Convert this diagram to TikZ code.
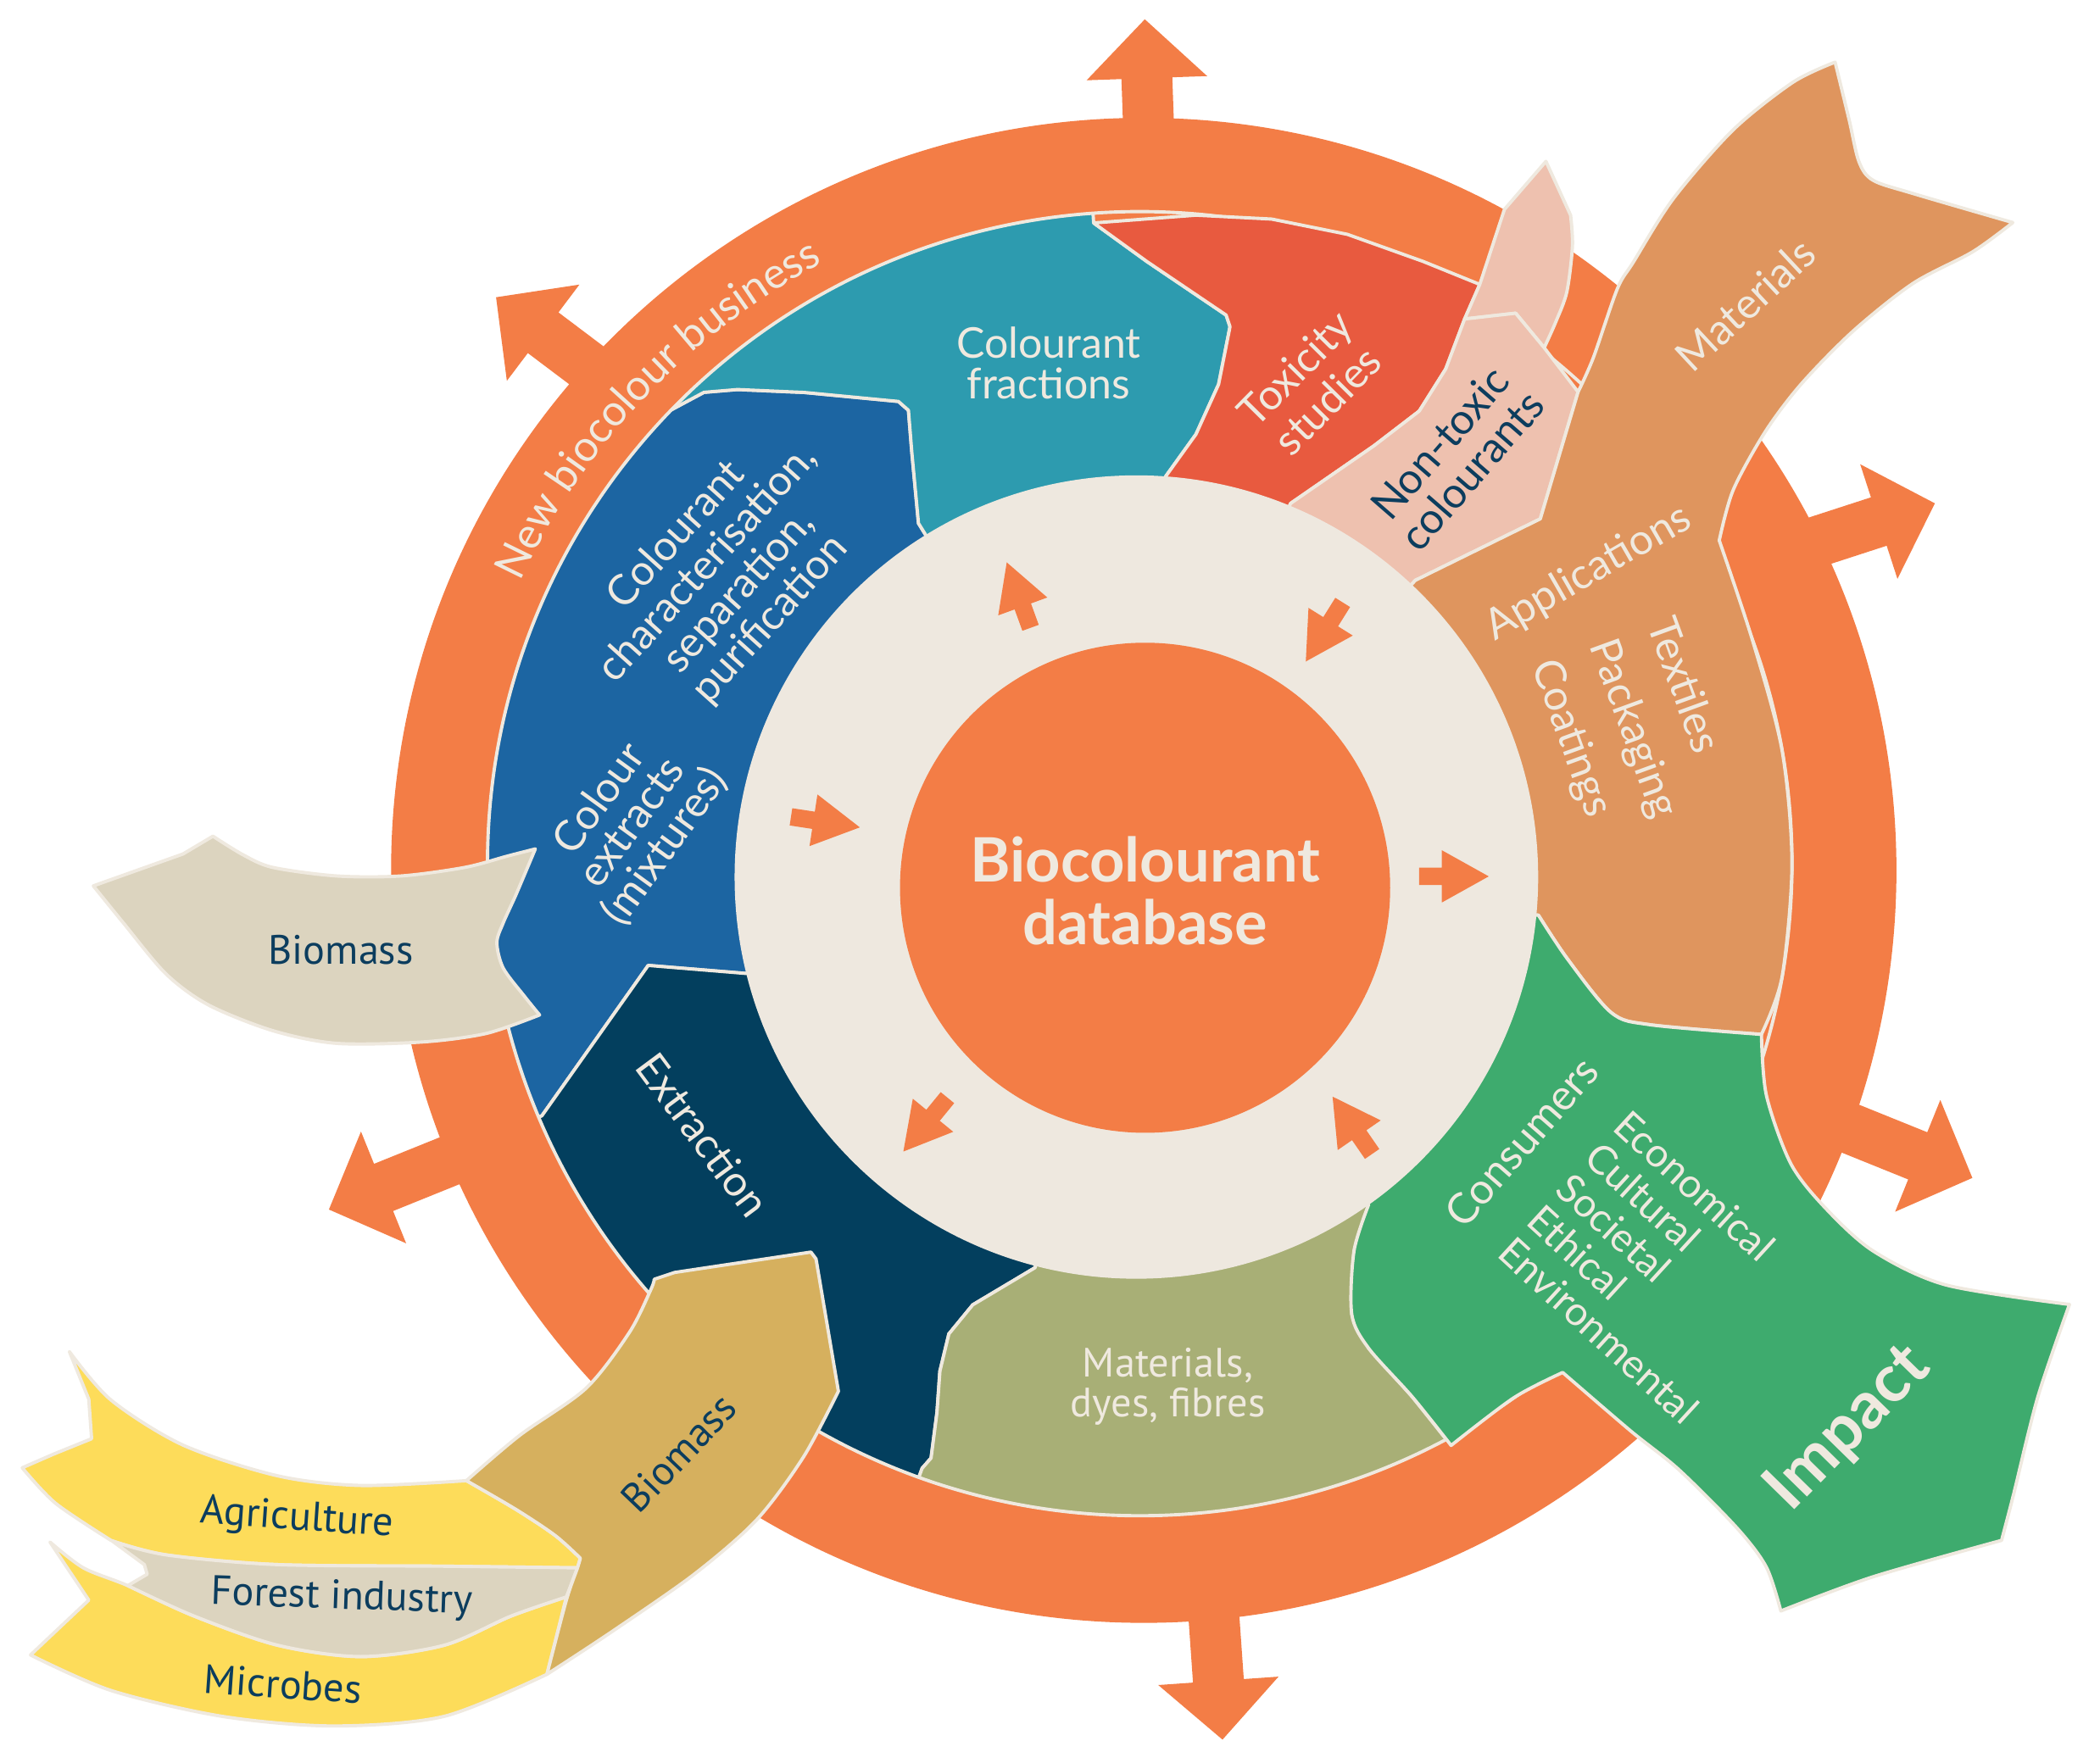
\documentclass[tikz,border=0pt]{standalone}
\usepackage{fontspec}
\setmainfont{Lato}
\newfontfamily\condf{PT Sans}
\usetikzlibrary{decorations.text}
\definecolor{ringO}{HTML}{F37D46}
\definecolor{cream}{HTML}{EFE9DF}
\definecolor{beigeD}{HTML}{EEE8DF}
\definecolor{tealC}{HTML}{2D9BAF}
\definecolor{redC}{HTML}{E85A3F}
\definecolor{blueC}{HTML}{1C65A2}
\definecolor{navyC}{HTML}{033F5E}
\definecolor{oliveC}{HTML}{A8AF76}
\definecolor{greenC}{HTML}{3EAB6E}
\definecolor{tanC}{HTML}{DF955E}
\definecolor{pinkC}{HTML}{EEC1AF}
\definecolor{sandC}{HTML}{DCD4BF}
\definecolor{goldC}{HTML}{D6B05E}
\definecolor{yellC}{HTML}{FDDC5A}
\definecolor{darkT}{HTML}{0C3D5E}
\newcommand\myfs[2]{\fontsize{#1}{#2}\selectfont}
\newcommand\ringarrow[3]{\begin{scope}[shift={(#1,#2)},rotate=#3]\fill[ringO] (0,0) -- (-44,45) -- (-44,19) -- (-115,19) -- (-115,-19) -- (-44,-19) -- (-44,-45) -- cycle;\end{scope}}
\newcommand\smallarrow[3]{\begin{scope}[shift={(#1,#2)},rotate=#3]\fill[ringO] (0,0) -- (-35,19.5) -- (-35,6.5) -- (-52,6.5) -- (-52,-6.5) -- (-35,-6.5) -- (-35,-19.5) -- cycle;\end{scope}}
\begin{document}
\begin{tikzpicture}[x=0.01cm,y=-0.01cm,
  sec/.style={draw=cream, line width=0.7pt, line join=round},
  rib/.style={draw=cream, line width=0.7pt, line join=round},
  lbl/.style={text=cream, font=\myfs{9}{9}, align=center, inner sep=0pt},
  cond/.style={text=darkT, font=\condf\myfs{8.7}{8.6}, align=center, inner sep=0pt}]
\useasboundingbox (0,0) rectangle (1568,1308);
\fill[white] (0,0) rectangle (1568,1308);
% outer ring
\fill[ringO] (854,650) circle (562);
\ringarrow{854.8}{14.4}{92}
\ringarrow{370.4}{222}{143}
\ringarrow{245.6}{903.3}{202}
\ringarrow{912.8}{1299.2}{-86}
\ringarrow{1444.7}{375.9}{18}
\ringarrow{1472.7}{879.7}{-22}
% clipped sections
\begin{scope}
\clip (851,645) circle (487);
\filldraw[sec, fill=blueC] (275.5,89.3) -- (500.6,306.4) -- (525.6,293) -- (550.7,290.9) -- (600.7,293.1) -- (670.8,299.8) -- (678.3,306.4) -- (680.8,337.5) -- (685.8,390.8) -- (849,655) -- (557,727) -- (484,721) -- (404.6,833.3) -- (112.4,952.5) -- (51,645) -- cycle;
\filldraw[sec, fill=tealC] (275.5,89.3) -- (500.6,306.4) -- (525.6,293) -- (550.7,290.9) -- (600.7,293.1) -- (670.8,299.8) -- (678.3,306.4) -- (680.8,337.5) -- (685.8,390.8) -- (849,655) -- (870.3,355.9) -- (893,324.3) -- (909.9,287) -- (918.4,244) -- (915.5,235.3) -- (856.2,195.2) -- (816.6,166.5) -- (795.2,-153) -- cycle;
\filldraw[sec, fill=navyC] (404.6,833.3) -- (484,721) -- (557,727) -- (849,655) -- (772.9,946.7) -- (726.3,974.5) -- (708.5,996.2) -- (701.8,1024) -- (699.6,1054.9) -- (695.2,1088.9) -- (688.5,1096.6) -- (580,1397.9) -- (112.4,952.5) -- cycle;
\filldraw[sec, fill=oliveC] (772.9,946.7) -- (726.3,974.5) -- (708.5,996.2) -- (701.8,1024) -- (699.6,1054.9) -- (695.2,1088.9) -- (688.5,1096.6) -- (580,1397.9) -- (851,1445) -- (1229,1350) -- (1083.5,1079.5) -- (1054.5,1043.2) -- (1021.9,1006.9) -- (1009.3,981.4) -- (1011,934.2) -- (1021.9,899.7) -- (849,655) -- cycle;
\end{scope}
\draw[cream, line width=0.7pt] (851,645) circle (487);
% red
\filldraw[sec, fill=redC] (816.6,166.5) -- (856.2,195.2) -- (915.5,235.3) -- (918.4,244) -- (909.9,287) -- (893,324.3) -- (870.3,355.9) -- (849,655) -- (963.6,376) -- (1025.8,333) -- (1059.7,307) -- (1079.5,275.5) -- (1093.6,238.2) -- (1104.9,212.4) -- (1062.5,195.2) -- (1006,175) -- (949.5,163.6) -- (893,160.7) -- cycle;
% pink
\filldraw[sec, fill=pinkC] (1093.6,238.2) -- (1104.9,212.4) -- plot[smooth] coordinates {(1104.9,212.4) (1116.2,178) (1123.3,156.4)} -- (1154.3,120.5) -- plot[smooth] coordinates {(1172.7,160.7) (1174.1,183.7) (1169.9,218) (1161.4,241) (1153,259.7)} -- (1131.7,233.9) -- cycle;
\filldraw[sec, fill=pinkC] (849,655) -- (963.6,376) -- (1025.8,333) -- (1059.7,307) -- (1079.5,275.5) -- (1093.6,238.2) -- (1131.7,233.9) -- (1153,259.7) -- (1178.3,292.7) -- (1150.1,387.5) -- (1056.8,433.4) -- cycle;
% tan
\filldraw[sec, fill=tanC] (849,655) -- (1056.8,433.4) -- (1150.1,387.5) -- (1178.3,292.7)
  -- plot[smooth] coordinates {(1178.3,292.7) (1189.7,267.1) (1207.6,215.7) (1219.5,195.9) (1249.4,148.4) (1294.1,97) (1338.8,61.4) (1370.2,46.4)}
  -- plot[smooth] coordinates {(1370.2,46.4) (1380.6,89.1) (1388,120.7) (1398.5,134.6) (1428.3,144.5) (1502.9,166.2)}
  -- plot[smooth] coordinates {(1502.9,166.2) (1473,188) (1428.3,211.7) (1383.6,247.3) (1344.8,286.9) (1318,322.5) (1294.1,366) (1283.7,403.6)}
  -- plot[smooth] coordinates {(1283.7,403.6) (1308.6,478.4) (1330.6,560.4) (1338,645) (1330.6,729.6) (1315.2,772.5)}
  -- plot[smooth] coordinates {(1315.2,772.5) (1232,765.3) (1203,756.2) (1170.4,716.2) (1148.7,683.5)} -- cycle;
% green
\filldraw[sec, fill=greenC] (849,655) -- (1148.7,683.5)
  -- plot[smooth] coordinates {(1148.7,683.5) (1170.4,716.2) (1203,756.2) (1232,765.3) (1315.2,772.5)}
  -- plot[smooth] coordinates {(1315.2,772.5) (1318.9,818) (1337,868.8) (1362.3,901.5) (1398.5,934.2) (1452.8,959.6) (1545.2,974.2)}
  -- plot[smooth] coordinates {(1545.2,974.2) (1521.6,1043.2) (1503.5,1115.9) (1494.5,1150.4)}
  -- plot[smooth] coordinates {(1494.5,1150.4) (1398.5,1177.6) (1329.7,1203.1)}
  -- plot[smooth] coordinates {(1329.7,1203.1) (1318.9,1170.4) (1297.1,1141.3) (1253.7,1097.7) (1217.5,1068.6) (1166.8,1025)}
  -- plot[smooth] coordinates {(1166.8,1025) (1130.3,1043.9) (1083.5,1079.5)}
  -- plot[smooth] coordinates {(1083.5,1079.5) (1054.5,1043.2) (1021.9,1006.9) (1009.3,981.4) (1011,934.2) (1021.9,899.7)} -- cycle;
% left biomass
\filldraw[rib, fill=sandC] plot[smooth] coordinates {(159,624.5) (181.3,638.3) (203.6,647.8) (251.4,654.2) (299.3,654.2) (347.1,647.8) (379,639.3) (399.7,634)}
  -- plot[smooth] coordinates {(399.7,634) (385.4,667.9) (375.8,689.1) (371,704) (375.8,723.1) (391.8,744.3) (402.9,758)}
  -- plot[smooth] coordinates {(402.9,758) (363.1,771.8) (315.2,778.2) (251.4,779.2) (203.6,769.7) (155.8,750.6) (123.9,727.3) (92,689.1) (69.7,661.6)}
  -- (136.6,637.8) -- cycle;
% yellow / sand / gold ribbons
\filldraw[rib, fill=yellC] (51.8,1009.4) -- plot[smooth] coordinates {(51.8,1009.4) (82.9,1045.6) (136.8,1079.3) (207.3,1102.2) (269.5,1109.4) (348.3,1105.8)}
  -- plot[smooth] coordinates {(348.3,1105.8) (385.6,1127.5) (414.6,1146.8) (433.3,1163.7)} -- (431.2,1170.9)
  -- plot[smooth] coordinates {(431.2,1170.9) (331.7,1169.7) (207.3,1168.5) (124.4,1161.3) (82.9,1150.4)}
  -- plot[smooth] coordinates {(82.9,1150.4) (41.5,1122.7) (16.6,1096.2)} -- (40,1086) -- (68.4,1074.5) -- (66.3,1045) -- cycle;
\filldraw[rib, fill=yellC] (37.3,1151.6) -- plot[smooth] coordinates {(37.3,1151.6) (62.2,1170.9) (95.4,1184.2) (145.1,1207) (207.3,1228.7) (269.5,1237.2) (331.7,1228.7) (381.4,1207) (422.9,1192.6)}
  -- (408.4,1250.4) -- plot[smooth] coordinates {(408.4,1250.4) (331.7,1281.8) (248.8,1289) (165.8,1281.8) (82.9,1262.5) (22.8,1236)} -- (66.3,1195) -- cycle;
\filldraw[rib, fill=sandC] plot[smooth] coordinates {(84,1151) (124.4,1161.3) (207.3,1168.5) (331.7,1169.7) (431.2,1170.9)} -- (422.9,1192.6)
  -- plot[smooth] coordinates {(422.9,1192.6) (381.4,1207) (331.7,1228.7) (269.5,1237.2) (207.3,1228.7) (145.1,1207) (95.4,1184.2)}
  -- (109.9,1175.7) -- (107.8,1168.5) -- cycle;
\filldraw[rib, fill=goldC] (488.5,955.4) -- (503.8,950.3) -- (605.5,935.1) -- (609.3,940.2) -- (626,1039)
  -- plot[smooth] coordinates {(626,1039) (600,1088) (565,1135) (518.3,1175.7) (456.1,1219.1) (408.4,1250.4)}
  -- plot[smooth] coordinates {(408.4,1250.4) (422.9,1195) (431.2,1170.9) (433.3,1163.7)}
  -- plot[smooth] coordinates {(433.3,1163.7) (414.6,1146.8) (385.6,1127.5) (348.3,1105.8)}
  -- plot[smooth] coordinates {(348.3,1105.8) (388,1072) (437.6,1036.8) (470,995) (486,963) (488.5,955.4)} -- cycle;
% centre
\fill[beigeD] (848.5,655) circle (300);
\fill[ringO] (855,663) circle (183);
\smallarrow{751.7}{420}{110}
\smallarrow{975}{494}{238}
\smallarrow{642}{617.9}{-8.7}
\smallarrow{1111.6}{654.5}{0}
\smallarrow{674.5}{860}{230.7}
\smallarrow{995}{819}{124.6}
% texts
\node[lbl, font=\bfseries\myfs{13}{13.3}] (db) at (855,665.5) {Biocolourant\\database};
\begin{scope}[shift={(854,650)}, y=0.01cm]
\path[decorate, decoration={text along path, text={|\myfs{9.1}{9.1}|New biocolour business}, text color=cream, text align=center}] (157:513) arc[start angle=157, end angle=116, radius=513];
\end{scope}
\node[lbl, rotate=48, font=\myfs{8.9}{8.9}] (cc) at (540.3,431.4) {Colourant\\characterisation,\\separation,\\purification};
\node[lbl, rotate=54, font=\myfs{9}{8.6}] (ce) at (472.3,614.7) {Colour\\extracts\\(mixtures)};
\node[lbl, font=\myfs{9}{8.6}] (cf) at (783,271) {Colourant\\fractions};
\node[lbl, rotate=45.4, font=\myfs{9}{9.7}] (tox) at (979,287) {Toxicity\\studies};
\node[lbl, text=darkT, rotate=49] (ntc) at (1087,341) {Non-toxic\\colourants};
\node[lbl, rotate=43] (mat) at (1303,227.5) {Materials};
\node[lbl, rotate=30] (app) at (1186,428) {Applications};
\node[lbl, rotate=-70, align=left, font=\myfs{9}{13}] (tpc) at (1218.8,544.3) {Textiles\\Packaging\\Coatings};
\node[lbl, rotate=48.8] (cons) at (1136,852.5) {Consumers};
\node[lbl, rotate=-42.5, anchor=north west, align=left, font=\myfs{8.5}{9.1}] (eco) at (1218,826) {Economical\\Cultural\\Societal\\Ethical\\Environmental};
\node[lbl, rotate=45.6, font=\bfseries\myfs{14}{14}] (imp) at (1380.4,1066.8) {Impact};
\node[lbl, rotate=-53.4] (ext) at (524.8,847.4) {Extraction};
\node[cond, text=cream] (mdf) at (872,1035.5) {Materials,\\dyes, fibres};
\node[cond] (bm1) at (254.6,709.3) {Biomass};
\node[cond, rotate=46.3] (bm2) at (506.9,1085.1) {Biomass};
\node[cond, rotate=-4] (agr) at (221.8,1134.8) {Agriculture};
\node[cond, rotate=-2] (for) at (255,1193.8) {Forest industry};
\node[cond, rotate=-4] (mic) at (211.4,1257.7) {Microbes};
\end{tikzpicture}
\end{document}
